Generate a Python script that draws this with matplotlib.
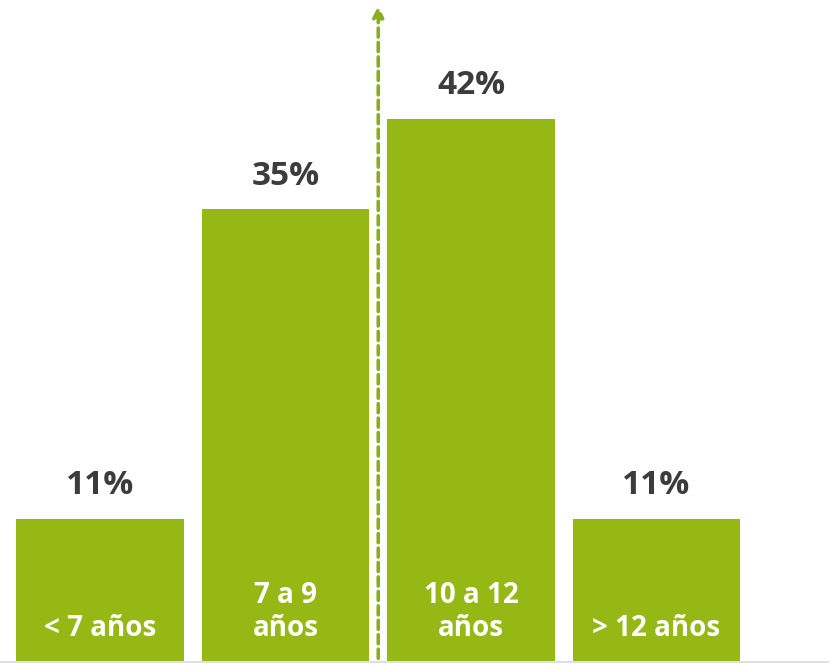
import matplotlib.pyplot as plt

# datos
categorias = ['< 7 años', '7 a 9\naños', '10 a 12\naños', '> 12 años']
valores = [11, 35, 42, 11]
etiquetas = ['11%', '35%', '42%', '11%']

verde = '#95b814'
gris = '#3c3c3c'

plt.rcParams['font.family'] = ['Open Sans', 'DejaVu Sans']

fig = plt.figure(figsize=(8.33, 6.70), dpi=100)
ax = fig.add_axes([0, 9 / 670, 1, 661 / 670])

x = list(range(len(valores)))
ax.bar(x, valores, width=0.905, color=verde, zorder=2)

ax.set_xlim(-100 / 185.5, 733 / 185.5)
ax.set_ylim(0, 661 / 12.9)

# etiquetas de porcentaje arriba de las barras
for xi, v, t in zip(x, valores, etiquetas):
    ax.text(xi, v + 1.3, t, ha='center', va='bottom', fontsize=24,
            fontweight='bold', color=gris)

# etiquetas de categoria dentro de las barras
for xi, c in zip(x, categorias):
    ax.text(xi, 1.9, c, ha='center', va='baseline', fontsize=20,
            fontweight='bold', color='white', linespacing=1.2, zorder=3)

# flecha punteada entre la segunda y tercera barra
ax.annotate('', xy=(1.5, 51.0), xytext=(1.5, 0),
            arrowprops=dict(arrowstyle='-|>', color='#88ad1f', lw=2.6,
                            linestyle=(0, (2.5, 1.5)), mutation_scale=16),
            zorder=4)

# linea base
ax.axhline(-0.1, xmin=0, xmax=828 / 833, color='#d9d9e0', lw=1.2, clip_on=False)

ax.axis('off')
fig.savefig('out.png', dpi=100, facecolor='white')
